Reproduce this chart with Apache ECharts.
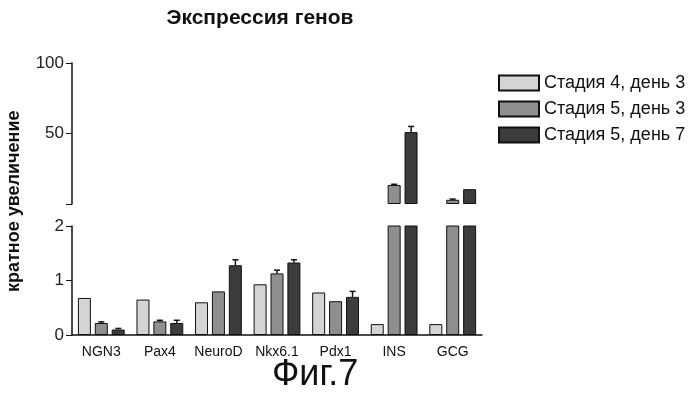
<!DOCTYPE html>
<html>
<head>
<meta charset="utf-8">
<script src="https://cdn.jsdelivr.net/npm/echarts@6/dist/echarts.min.js"></script>
<style>html,body{margin:0;background:#fff}#chart{width:699px;height:400px}</style>
</head>
<body>
<div id="chart"></div>
<script>
// genes on the x axis
const genes = ["NGN3", "Pax4", "NeuroD", "Nkx6.1", "Pdx1", "INS", "GCG"];
const seriesNames = ["Стадия 4, день 3", "Стадия 5, день 3", "Стадия 5, день 7"];
// fold change
const s4d3 = [0.68, 0.65, 0.6, 0.93, 0.78, 0.2, 0.2];
const s5d3 = [0.22, 0.25, 0.8, 1.13, 0.62, 13.5, 3];
const s5d7 = [0.1, 0.22, 1.28, 1.33, 0.7, 51, 10.5];
// upper error only
const s4d3Err = [0, 0, 0, 0, 0, 0, 0];
const s5d3Err = [0.02, 0.02, 0, 0.06, 0, 0.5, 0.5];
const s5d7Err = [0.02, 0.05, 0.1, 0.05, 0.1, 4, 0];
const lowTicks = [0, 1, 2];
const highTicks = [50, 100];

const colors = ["#d4d4d4", "#8f8f8f", "#3c3c3c"];
const values = [s4d3, s5d3, s5d7];
const errs = [s4d3Err, s5d3Err, s5d7Err];
const breakAt = 2;

const chart = echarts.init(document.getElementById("chart"));

const series = [];
const barW = 13;
const offs = [-17, 0, 17];
for (let k = 0; k < 3; k++) {
  // lower panel
  series.push({
    name: seriesNames[k], type: "bar", xAxisIndex: 0, yAxisIndex: 0,
    data: values[k], barWidth: barW, barGap: "30%",
    itemStyle: { color: colors[k], borderColor: "#111", borderWidth: 1 },
    animation: false
  });
  // upper panel: only values above the break
  series.push({
    name: seriesNames[k], type: "bar", xAxisIndex: 1, yAxisIndex: 1,
    data: values[k].map(v => v > breakAt ? v : "-"), barWidth: barW, barGap: "30%",
    itemStyle: { color: colors[k], borderColor: "#111", borderWidth: 1 },
    animation: false
  });
}

// error bars, drawn in whichever panel the bar ends
function errSeries(panel) {
  const data = [];
  for (let k = 0; k < 3; k++) {
    values[k].forEach((v, i) => {
      if (!errs[k][i]) return;
      const inHigh = v > breakAt;
      if ((panel === 1) !== inHigh) return;
      data.push([i, v, v + errs[k][i], offs[k]]);
    });
  }
  return {
    type: "custom", xAxisIndex: panel, yAxisIndex: panel, silent: true, animation: false,
    data: data,
    renderItem: (params, api) => {
      const base = api.coord([api.value(0), api.value(1)]);
      const top = api.coord([api.value(0), api.value(2)]);
      const x = base[0] + api.value(3);
      return {
        type: "group", children: [
          { type: "line", shape: { x1: x, y1: base[1], x2: x, y2: top[1] }, style: { stroke: "#111", lineWidth: 1.5 } },
          { type: "line", shape: { x1: x - 3, y1: top[1], x2: x + 3, y2: top[1] }, style: { stroke: "#111", lineWidth: 1.5 } }
        ]
      };
    }
  };
}
series.push(errSeries(0), errSeries(1));

const axisFont = { color: "#222", fontFamily: "Liberation Sans", fontSize: 17 };

chart.setOption({
  backgroundColor: "#fff",
  title: {
    text: "Экспрессия генов", left: 255, top: 3, textAlign: "center",
    textStyle: { fontFamily: "Liberation Sans", fontWeight: "bold", fontSize: 21, color: "#111" }
  },
  legend: {
    data: seriesNames, orient: "vertical", left: 493, top: 69, itemGap: 8,
    itemWidth: 40, itemHeight: 15, icon: "rect",
    textStyle: { fontFamily: "Liberation Sans", fontSize: 18, color: "#111" }
  },
  grid: [
    { left: 72, right: 217, top: 226, bottom: 65 },
    { left: 72, right: 217, top: 63, bottom: 196 }
  ],
  xAxis: [
    {
      gridIndex: 0, type: "category", data: genes,
      axisLine: { lineStyle: { color: "#111", width: 1.5 } }, axisTick: { show: false },
      axisLabel: Object.assign({}, axisFont, { margin: 10, fontSize: 14, interval: 0, color: "#111" })
    },
    {
      gridIndex: 1, type: "category", data: genes, show: false
    }
  ],
  yAxis: [
    {
      gridIndex: 0, type: "value", min: lowTicks[0], max: lowTicks[2], interval: 1,
      splitLine: { show: false },
      axisLine: { show: true, lineStyle: { color: "#111", width: 1.5 } },
      axisTick: { show: true, length: 6, lineStyle: { color: "#111" } },
      axisLabel: Object.assign({ margin: 8 }, axisFont)
    },
    {
      gridIndex: 1, type: "value", min: 0, max: highTicks[1], interval: highTicks[0],
      splitLine: { show: false },
      axisLine: { show: true, lineStyle: { color: "#111", width: 1.5 } },
      axisTick: { show: true, length: 6, lineStyle: { color: "#111" } },
      axisLabel: Object.assign({ margin: 8, formatter: v => v === 0 ? "" : v }, axisFont)
    }
  ],
  graphic: [
    {
      type: "text", rotation: Math.PI / 2,
      style: { text: "кратное увеличение", fontFamily: "Liberation Sans", fontWeight: "bold", fontSize: 18, fill: "#111" },
      x: 5, y: 292
    },
    {
      type: "text", left: 272, top: 357,
      style: { text: "Фиг.7", fontFamily: "Liberation Sans", fontSize: 36, fill: "#111" }
    }
  ],
  series: series
});
</script>
</body>
</html>
